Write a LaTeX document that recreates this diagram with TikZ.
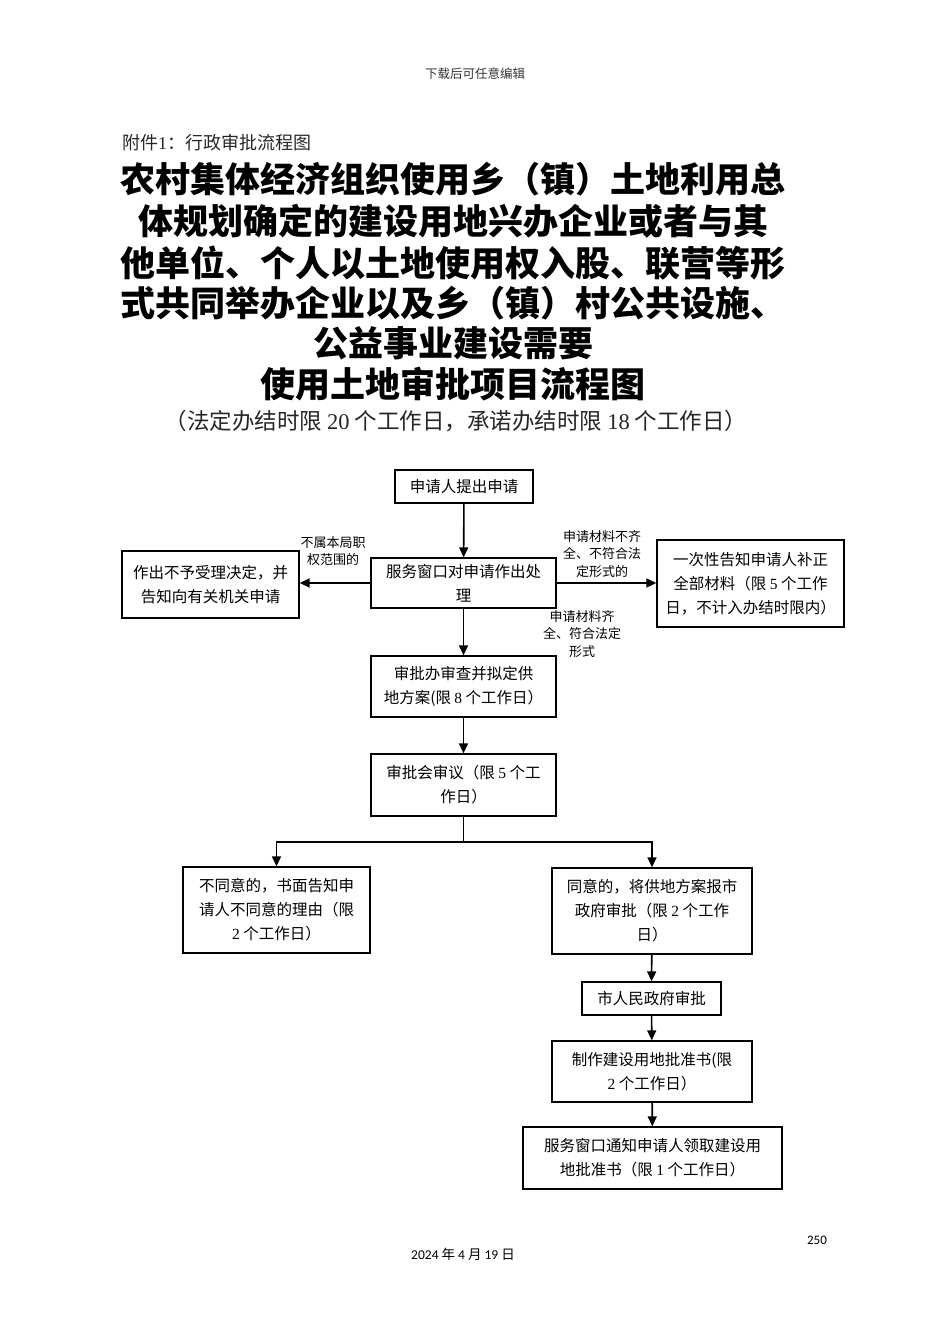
\documentclass[tikz,border=0pt]{standalone}
\usepackage{fontspec}
\setmainfont{Noto Sans CJK SC}
\newfontfamily\lat{Liberation Serif}
\newfontfamily\carl{Carlito}
\newcommand\dg[1]{{\lat #1}}
\usetikzlibrary{arrows.meta}
\begin{document}
\begin{tikzpicture}[x=1pt,y=-1pt,
  box/.style={draw, line width=1.3pt, align=center, inner sep=0pt, font=\fontsize{15.5}{24}\selectfont},
  lab/.style={align=center, inner sep=0pt, font=\fontsize{13}{17.5}\selectfont},
  arr/.style={line width=1.6pt, -{Triangle[length=10pt,width=9pt]}},
  ttl/.style={inner sep=0pt, font=\fontsize{35}{40}\selectfont\bfseries}]
\useasboundingbox (0,0) rectangle (950,1344);
\node[inner sep=0pt, font=\fontsize{12.5}{14}\selectfont, text=black!80] (hdr) at (475,74) {下载后可任意编辑};
\node[inner sep=0pt, anchor=west, font=\fontsize{18}{20}\selectfont, text=black!85] (att) at (122,143) {附件\dg{1}：行政审批流程图};
\node[ttl] (t1) at (453,179) {农村集体经济组织使用乡（镇）土地利用总};
\node[ttl] (t2) at (453,221) {体规划确定的建设用地兴办企业或者与其};
\node[ttl] (t3) at (453,263) {他单位、个人以土地使用权入股、联营等形};
\node[ttl] (t4) at (453,303) {式共同举办企业以及乡（镇）村公共设施、};
\node[ttl] (t5) at (453,343) {公益事业建设需要};
\node[ttl] (t6) at (453,384) {使用土地审批项目流程图};
\node[inner sep=0pt, font=\fontsize{22.5}{26}\selectfont, text=black!85] (sub) at (456,421) {（法定办结时限 \dg{20} 个工作日，承诺办结时限 \dg{18} 个工作日）};

\node[box, minimum width=138, minimum height=33] (a) at (464,486.5) {申请人提出申请};
\node[box, minimum width=185, minimum height=50] (b) at (463.5,583) {服务窗口对申请作出处\\理};
\node[box, minimum width=177, minimum height=67] (l) at (210.5,584.5) {作出不予受理决定，并\\告知向有关机关申请};
\node[box, minimum width=187, minimum height=87] (r) at (750.5,583.5) {一次性告知申请人补正\\全部材料（限 \dg{5} 个工作\\日，不计入办结时限内）};
\node[box, minimum width=185, minimum height=61] (c) at (463.5,686.5) {审批办审查并拟定供\\地方案(限 \dg{8} 个工作日）};
\node[box, minimum width=185, minimum height=62] (d) at (463.5,785) {审批会审议（限 \dg{5} 个工\\作日）};
\node[box, minimum width=187, minimum height=86] (e) at (276.5,910) {不同意的，书面告知申\\请人不同意的理由（限\\\dg{2} 个工作日）};
\node[box, minimum width=200, minimum height=86] (f) at (652,911) {同意的，将供地方案报市\\政府审批（限 \dg{2} 个工作\\日）};
\node[box, minimum width=139, minimum height=33] (g) at (651.5,998.5) {市人民政府审批};
\node[box, minimum width=200, minimum height=61] (h) at (652,1071.5) {制作建设用地批准书(限\\\dg{2} 个工作日）};
\node[box, minimum width=259, minimum height=62] (i) at (652.5,1158) {服务窗口通知申请人领取建设用\\地批准书（限 \dg{1} 个工作日）};

\node[lab] (lb1) at (333,551) {不属本局职\\权范围的};
\node[lab] (lb2) at (602,554) {申请材料不齐\\全、不符合法\\定形式的};
\node[lab] (lb3) at (582,634) {申请材料齐\\全、符合法定\\形式};

\coordinate (br) at (463.5,842);
\draw[arr] (a) -- (b);
\draw[arr] (b.west) -- (l.east |- b.west);
\draw[arr] (b.east) -- (r.west |- b.east);
\draw[arr] (b) -- (c);
\draw[arr] (c) -- (d);
\draw[line width=1.6pt] (d.south) -- (br);
\draw[arr] (br) -| (e.north);
\draw[arr] (br) -| (f.north);
\draw[arr] (f) -- (g);
\draw[arr] (g) -- (h);
\draw[arr] (h) -- (i);

\node[inner sep=0pt, font=\fontsize{13}{15}\selectfont\carl] (pg) at (817,1240) {250};
\node[inner sep=0pt, font=\fontsize{13.5}{15}\selectfont] (dt) at (463,1254) {{\carl 2024} 年 {\carl 4} 月 {\carl 19} 日};
\end{tikzpicture}
\end{document}
